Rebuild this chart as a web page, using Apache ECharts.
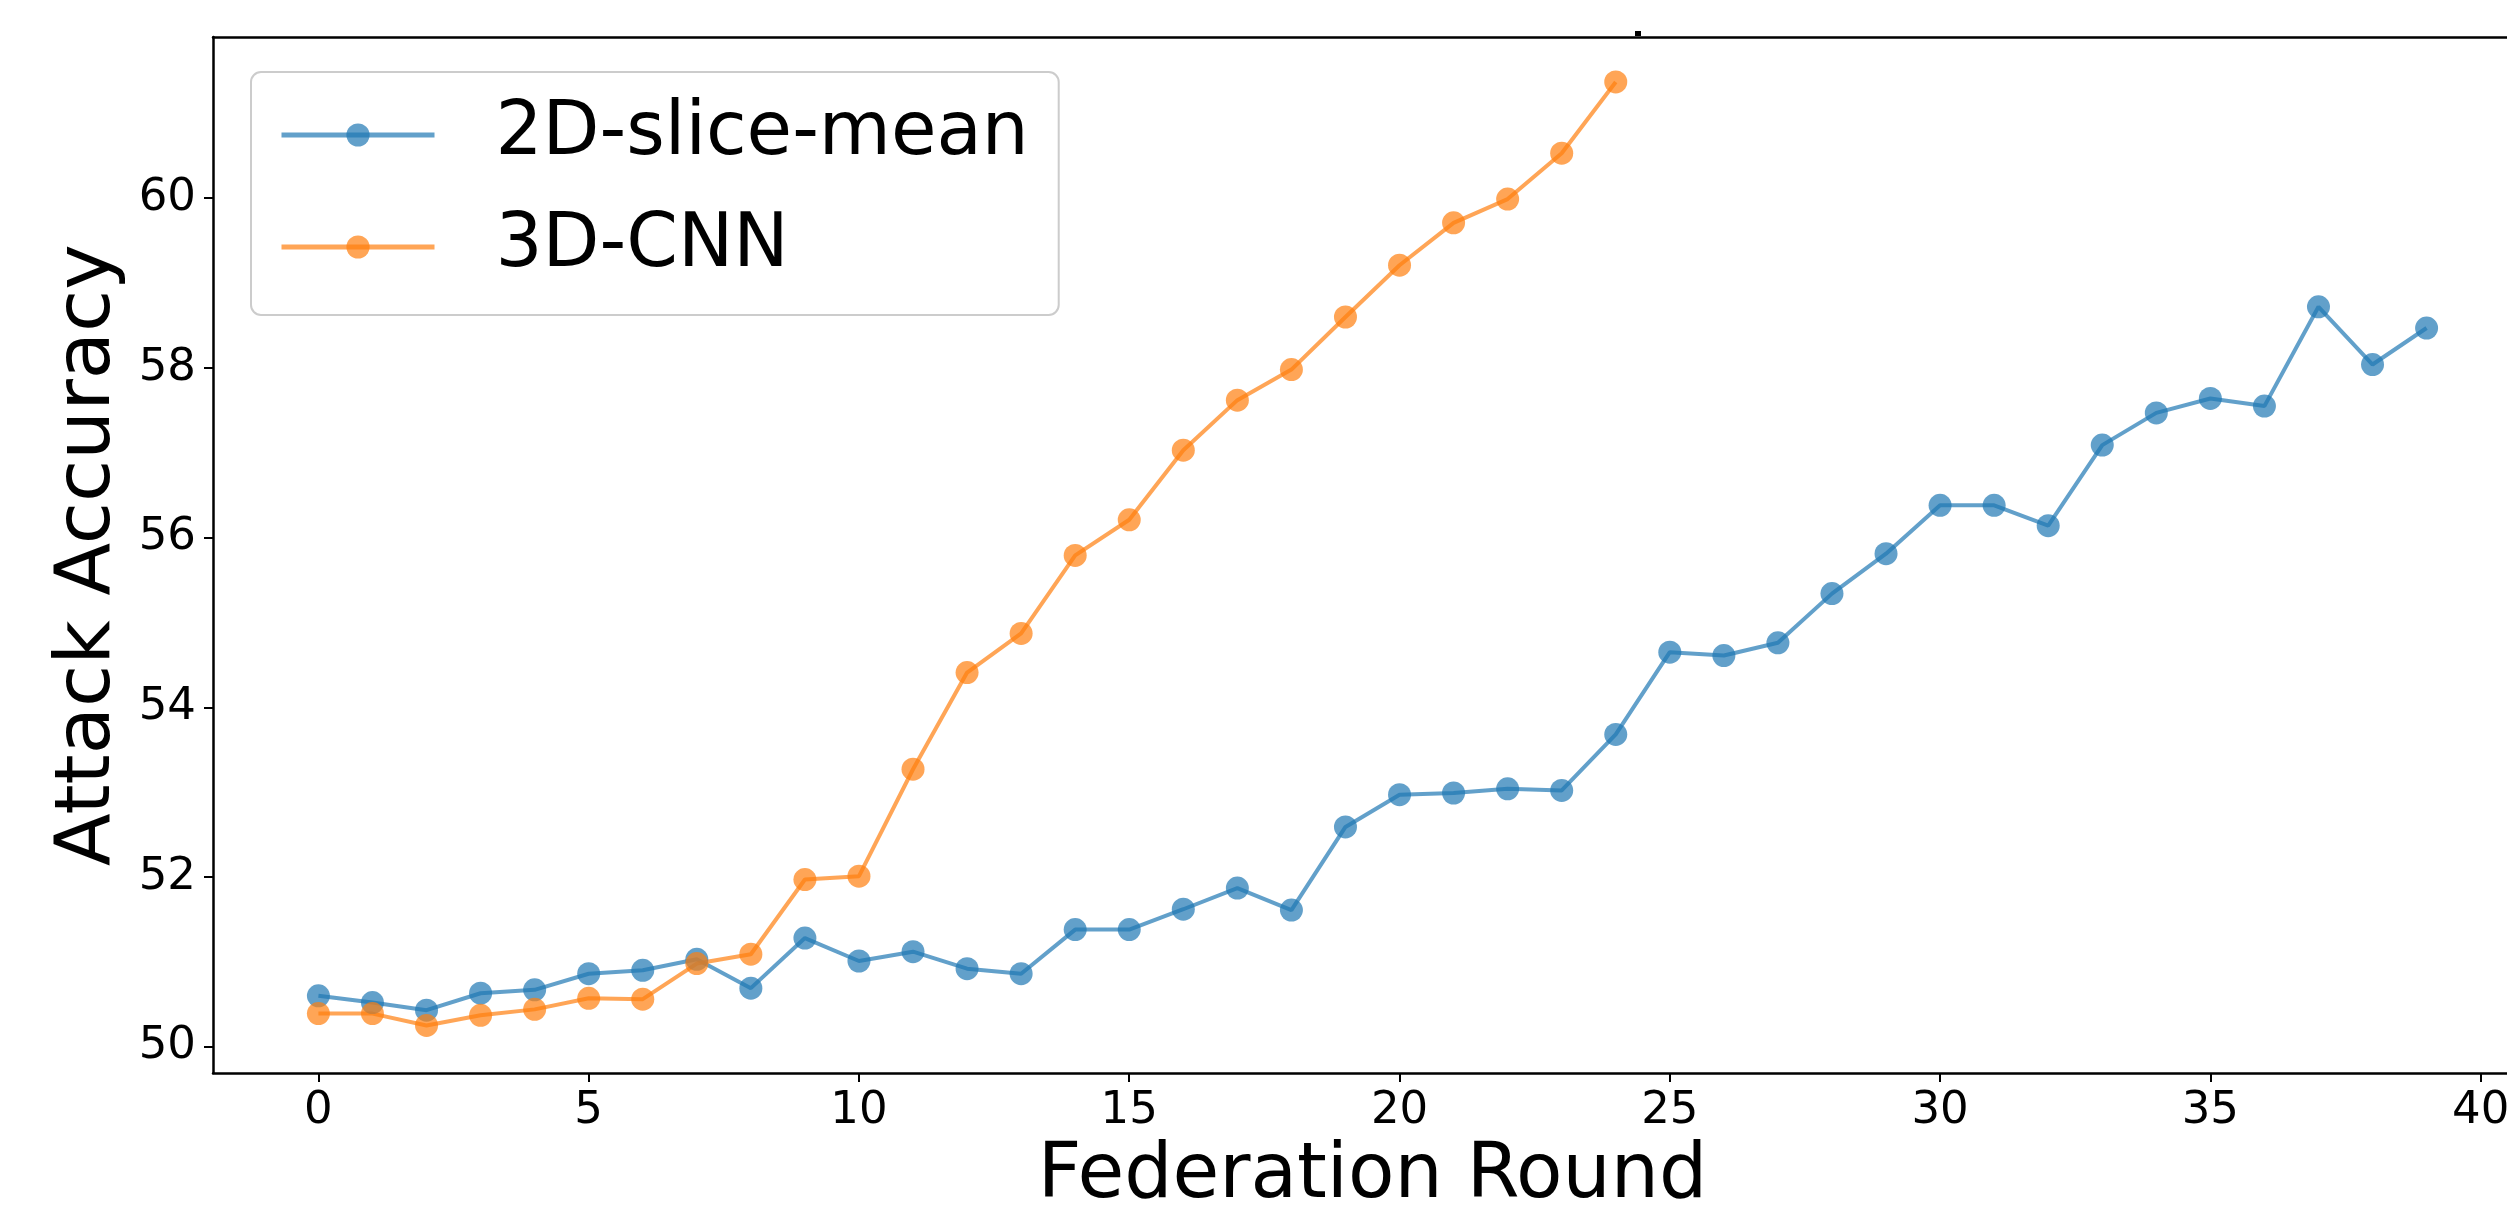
<!DOCTYPE html>
<html>
<head>
<meta charset="utf-8">
<script src="https://cdn.jsdelivr.net/npm/echarts@6/dist/echarts.min.js"></script>
<style>
html,body{margin:0;padding:0;background:#fff;overflow:hidden;}
#chart{width:2507px;height:1214px;}
</style>
</head>
<body>
<div id="chart"></div>
<script>
const rounds = [0,1,2,3,4,5,6,7,8,9,10,11,12,13,14,15,16,17,18,19,20,21,22,23,24,25,26,27,28,29,30,31,32,33,34,35,36,37,38,39];
const slice2D = [50.60,50.52,50.43,50.63,50.67,50.86,50.90,51.03,50.69,51.28,51.01,51.12,50.92,50.86,51.38,51.38,51.62,51.87,51.61,52.59,52.97,52.99,53.04,53.02,53.68,54.65,54.61,54.76,55.34,55.81,56.38,56.38,56.14,57.09,57.47,57.64,57.55,58.72,58.04,58.47];
const cnn3D = [50.39,50.39,50.25,50.37,50.44,50.57,50.56,50.98,51.09,51.97,52.01,53.27,54.41,54.87,55.79,56.21,57.03,57.62,57.98,58.60,59.21,59.71,59.99,60.53,61.37];
const xTicks = [0,5,10,15,20,25,30,35,40];
const yTicks = [50,52,54,56,58,60];
const seriesNames = ['2D-slice-mean','3D-CNN'];

const font = 'DejaVu Sans';
const chart = echarts.init(document.getElementById('chart'));
const mk = (name, ys, color) => ({
  name: name,
  type: 'line',
  xAxisIndex: 0,
  data: ys.map((v,i) => [rounds[i], v]),
  symbol: 'circle',
  symbolSize: 23,
  color: color,
  lineStyle: {color: color, width: 4, opacity: 0.7},
  itemStyle: {color: color, opacity: 0.7},
  animation: false
});
chart.setOption({
  animation: false,
  backgroundColor: '#ffffff',
  grid: {left: 213, top: 37, right: -25, bottom: 141, show: false, containLabel: false, outerBoundsMode: 'none'},
  legend: {
    orient: 'vertical',
    left: 251, top: 72,
    data: seriesNames,
    itemWidth: 153, itemHeight: 29, itemGap: 22,
    padding: [18, 30, 23, 28],
    backgroundColor: 'rgba(255,255,255,0.8)',
    borderColor: '#cccccc', borderWidth: 2, borderRadius: 10,
    lineStyle: {width: 5},
    textStyle: {fontFamily: font, fontSize: 74, color: '#000', lineHeight: 90, padding: [0,0,0,56]}
  },
  xAxis: [{
    type: 'value', min: -1.95, max: 40.95, position: 'bottom',
    name: 'Federation Round', nameLocation: 'middle', nameGap: 66,
    nameTextStyle: {fontFamily: font, fontSize: 76, color: '#000'},
    axisLine: {show: true, onZero: false, lineStyle: {color: '#000', width: 2.5}},
    axisTick: {show: true, length: 9, lineStyle: {color: '#000', width: 2}, customValues: xTicks},
    axisLabel: {fontFamily: font, fontSize: 45, color: '#000', margin: 16, customValues: xTicks},
    splitLine: {show: false}
  }, {
    type: 'value', min: -1.95, max: 40.95, position: 'top',
    axisLine: {show: true, onZero: false, lineStyle: {color: '#000', width: 2.5}},
    axisTick: {show: false}, axisLabel: {show: false}, splitLine: {show: false}
  }],
  yAxis: {
    type: 'value', min: 49.69, max: 61.9,
    name: 'Attack Accuracy', nameLocation: 'middle', nameGap: 69, nameRotate: 90,
    nameTextStyle: {fontFamily: font, fontSize: 77, color: '#000'},
    axisLine: {show: true, onZero: false, lineStyle: {color: '#000', width: 2.5}},
    axisTick: {show: true, length: 9, lineStyle: {color: '#000', width: 2}, customValues: yTicks},
    axisLabel: {fontFamily: font, fontSize: 45, color: '#000', margin: 17, customValues: yTicks},
    splitLine: {show: false}
  },
  graphic: [{type: 'rect', left: 1635, top: 31, shape: {width: 6, height: 5}, style: {fill: '#000'}}],
  series: [mk(seriesNames[0], slice2D, '#1f77b4'), mk(seriesNames[1], cnn3D, '#ff7f0e')]
});
</script>
</body>
</html>
